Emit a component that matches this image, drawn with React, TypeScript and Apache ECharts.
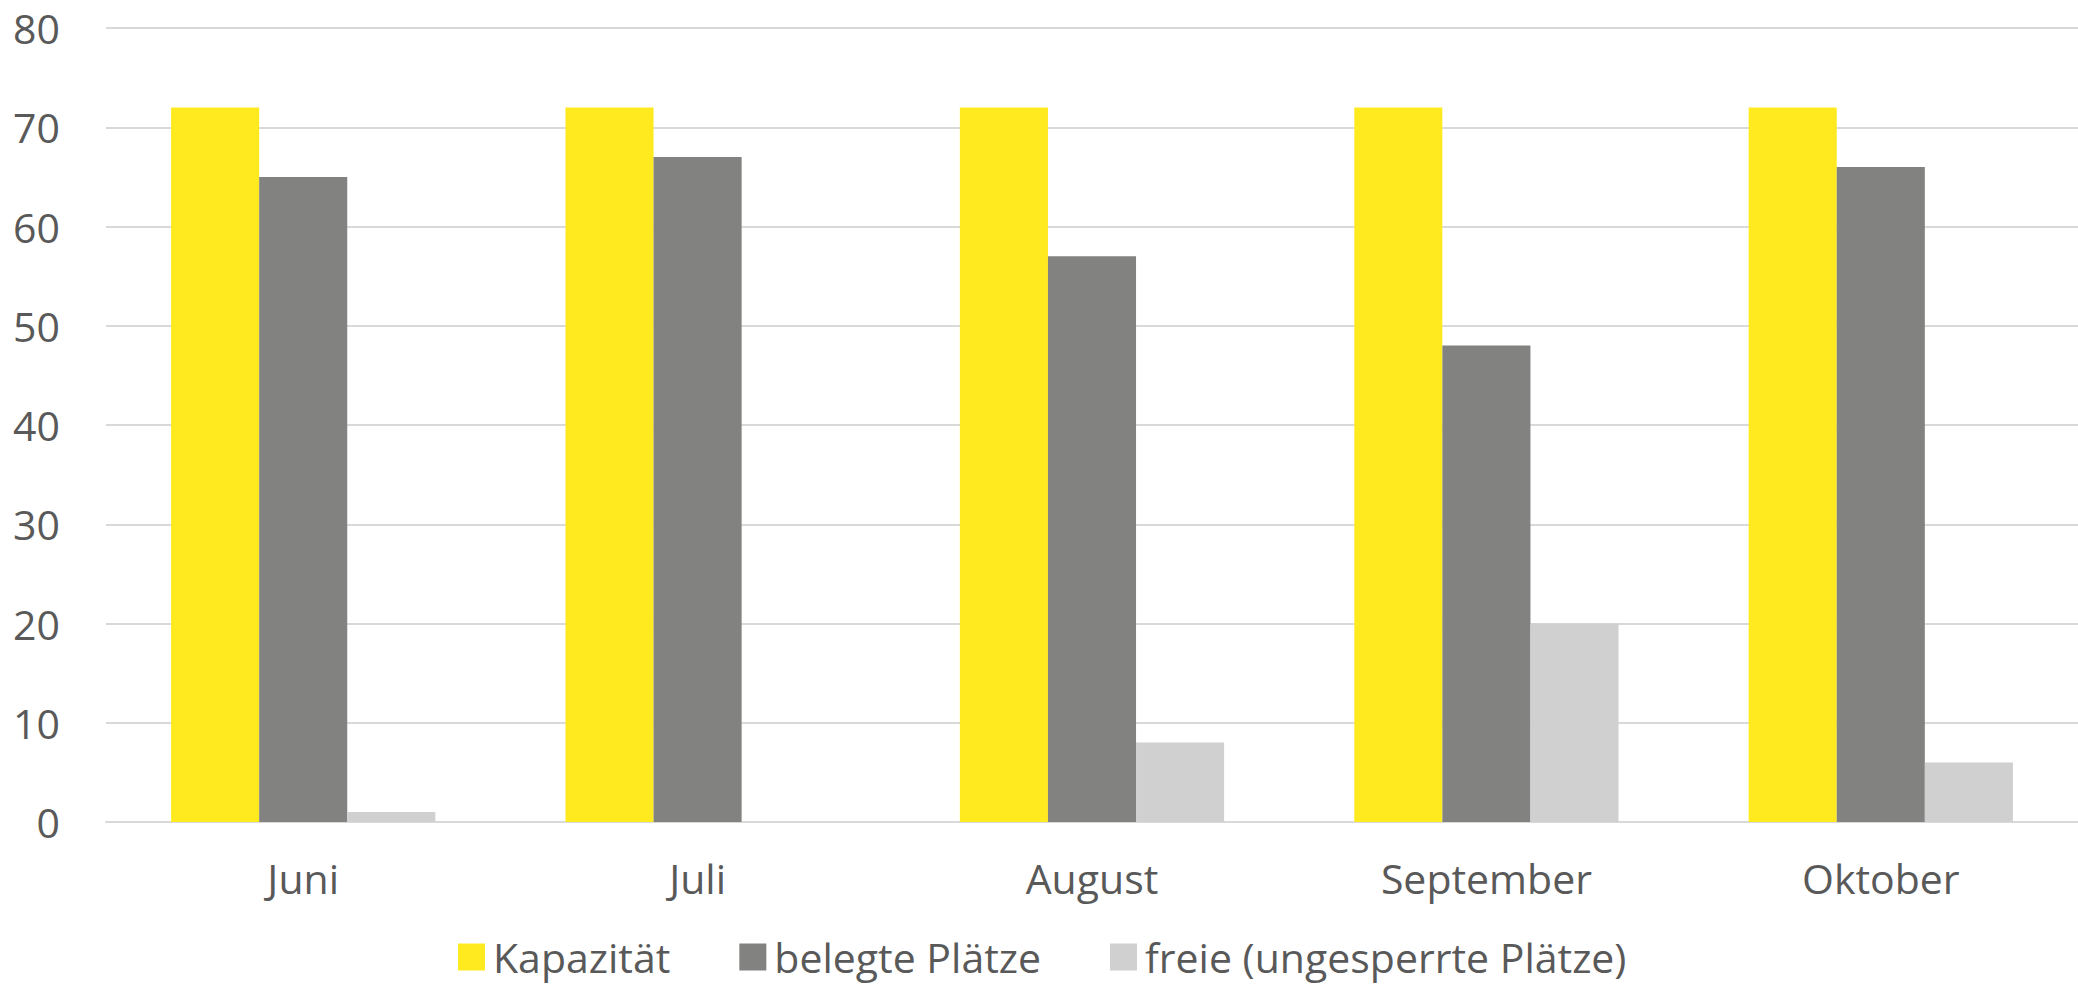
import React, { useEffect, useRef } from "react";
import * as echarts from "echarts";

const months = ["Juni", "Juli", "August", "September", "Oktober"];
const kapazitaet = [72, 72, 72, 72, 72];
const belegt = [65, 67, 57, 48, 66];
const frei = [1, 0, 8, 20, 6];
const seriesNames = ["Kapazität", "belegte Plätze", "freie (ungesperrte Plätze)"];
const colors = ["#FFEA20", "#828280", "#D0D0D0"];

export default function App() {
  const ref = useRef<HTMLDivElement>(null);
  useEffect(() => {
    document.body.style.margin = "0";
    const chart = echarts.init(ref.current!, null, { renderer: "svg" });
    const font = "'Open Sans', 'Noto Sans', sans-serif";
    chart.setOption({
      animation: false,
      backgroundColor: "#ffffff",
      textStyle: { fontFamily: font },
      grid: { left: 106, width: 1988, top: 28, bottom: 165, containLabel: false },
      legend: {
        top: 935,
        left: 453,
        padding: [0, 5, 0, 5],
        icon: "rect",
        itemWidth: 27,
        itemHeight: 27,
        itemGap: 69,
        textStyle: { fontSize: 41, lineHeight: 44, color: "#595959", fontFamily: font, padding: [0, 0, 0, 3] },
        data: seriesNames,
      },
      xAxis: {
        type: "category",
        data: months,
        axisLine: { show: true, lineStyle: { color: "#D9D9D9", width: 2 } },
        axisTick: { show: false },
        axisLabel: { fontSize: 41, color: "#595959", margin: 35, fontFamily: font },
      },
      yAxis: {
        type: "value",
        min: 0,
        max: 80,
        interval: 10,
        axisLine: { show: false },
        axisTick: { show: false },
        axisLabel: { fontSize: 41, color: "#595959", margin: 46, fontFamily: font },
        splitLine: { lineStyle: { color: "#D9D9D9", width: 2 } },
      },
      series: [
        { name: seriesNames[0], type: "bar", data: kapazitaet, itemStyle: { color: colors[0] }, barGap: "0%", barCategoryGap: "33%" },
        { name: seriesNames[1], type: "bar", data: belegt, itemStyle: { color: colors[1] }, barGap: "0%", barCategoryGap: "33%" },
        { name: seriesNames[2], type: "bar", data: frei, itemStyle: { color: colors[2] }, barGap: "0%", barCategoryGap: "33%" },
      ],
    });
    return () => chart.dispose();
  }, []);
  return <div ref={ref} style={{ position: "fixed", left: 0, top: 0, width: 2078, height: 987 }} />;
}
